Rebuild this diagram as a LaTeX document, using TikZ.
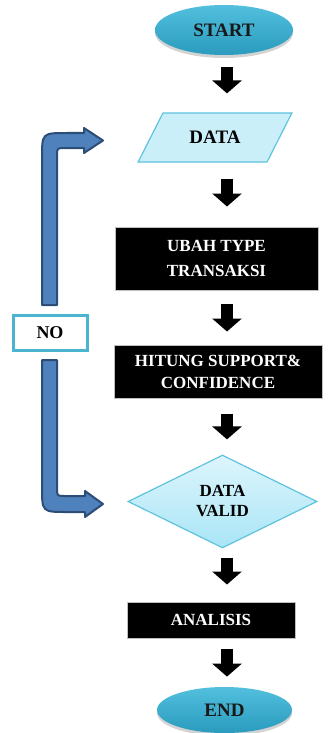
\documentclass[tikz,border=0pt]{standalone}
\usepackage{fontspec}
\setmainfont{Liberation Serif}
\usetikzlibrary{shapes.geometric, arrows.meta, shadows}

\definecolor{ovaltop}{HTML}{52BFDD}
\definecolor{ovalbot}{HTML}{2A9BBE}
\definecolor{paleblue}{HTML}{CBEFF9}
\definecolor{palelow}{HTML}{A9E5F6}
\definecolor{paletop}{HTML}{DDF5FC}
\definecolor{paleedge}{HTML}{5EC3DE}
\definecolor{loopfill}{HTML}{4F81BD}
\definecolor{loopedge}{HTML}{2C4D75}
\definecolor{noedge}{HTML}{4BB4D0}

\tikzset{
  terminal/.style={ellipse, minimum width=69pt, minimum height=25pt, inner sep=0pt,
    top color=ovaltop, bottom color=ovalbot, text=black!90,
    drop shadow={shadow xshift=0pt, shadow yshift=-1.5pt, opacity=0.35},
    font=\bfseries\fontsize{9.5}{11}\selectfont},
  inbox/.style={trapezium, trapezium left angle=46, trapezium right angle=134,
    trapezium stretches=true, minimum width=77pt, minimum height=24.5pt, inner sep=0pt,
    fill=paleblue, draw=paleedge, line width=0.6pt,
    font=\bfseries\fontsize{9.5}{11}\selectfont},
  process/.style={rectangle, fill=black, draw=gray!50, line width=0.5pt, text=white,
    align=center, inner sep=0pt},
  decision/.style={diamond, aspect=2, minimum width=94.5pt, minimum height=46.5pt,
    inner sep=0pt, top color=paletop, bottom color=palelow, draw=paleedge,
    line width=0.6pt, align=center, font=\bfseries\fontsize{8.5}{10}\selectfont},
  nobox/.style={rectangle, draw=noedge, line width=1.5pt, fill=white,
    minimum width=37pt, minimum height=17.5pt, inner sep=0pt,
    font=\bfseries\fontsize{9}{11}\selectfont},
  flowarrow/.style={line width=6pt, -{Triangle[width=14.5pt, length=6.5pt]}},
  loop/.style={fill=loopfill, draw=loopedge, line width=1pt, line join=round},
}

\begin{document}
\begin{tikzpicture}[x=0.5pt, y=-0.5pt]
  \useasboundingbox (0,0) rectangle (329,733);
  \coordinate (axis) at (227,0);

  \node[terminal] (start) at (224,30) {START};
  \node[inbox] (data) at (215,137.5) {DATA};
  \node[process, minimum width=101.5pt, minimum height=31.5pt,
    font=\bfseries\fontsize{8.5}{12.5}\selectfont] (ubah) at (216.5,258.5) {UBAH TYPE\\TRANSAKSI};
  \node[process, minimum width=104pt, minimum height=26.5pt,
    font=\bfseries\fontsize{8.5}{11}\selectfont] (hitung) at (218,371.5) {HITUNG SUPPORT\&\\CONFIDENCE};
  \node[decision] (valid) at (222.5,501.5) {DATA\\VALID};
  \node[process, minimum width=84pt, minimum height=18pt,
    font=\bfseries\fontsize{8.5}{10}\selectfont] (analisis) at (211,620) {ANALISIS};
  \node[terminal, minimum width=67.5pt, minimum height=23pt] (finish) at (224.5,710) {END};
  \node[nobox] (no) at (50,332.5) {NO};

  % panah hitam
  \foreach \a/\b/\s/\e in {start/data/6pt/9.5pt, data/ubah/8pt/10pt,
      ubah/hitung/6.5pt/6.5pt, hitung/valid/7.5pt/7.5pt,
      valid/analisis/4.5pt/8.5pt, analisis/finish/5pt/5pt}{
    \draw[flowarrow, shorten <=\s, shorten >=\e] (\a.south -| axis) -- (\b.north -| axis);}

  % panah NO ke atas
  \filldraw[loop] (42,305) -- (42,158) .. controls (42,133) .. (67,133) -- (84,133)
    -- (84,128) -- (103,140.5) -- (84,153) -- (84,148) -- (65,148)
    .. controls (57,148) .. (57,156) -- (57,305) -- cycle;
  % panah NO ke bawah
  \filldraw[loop] (42,360) -- (42,487) .. controls (42,512) .. (67,512) -- (85,512)
    -- (85,517) -- (103,504) -- (85,491) -- (85,496) -- (65,496)
    .. controls (57,496) .. (57,488) -- (57,360) -- cycle;
\end{tikzpicture}
\end{document}
